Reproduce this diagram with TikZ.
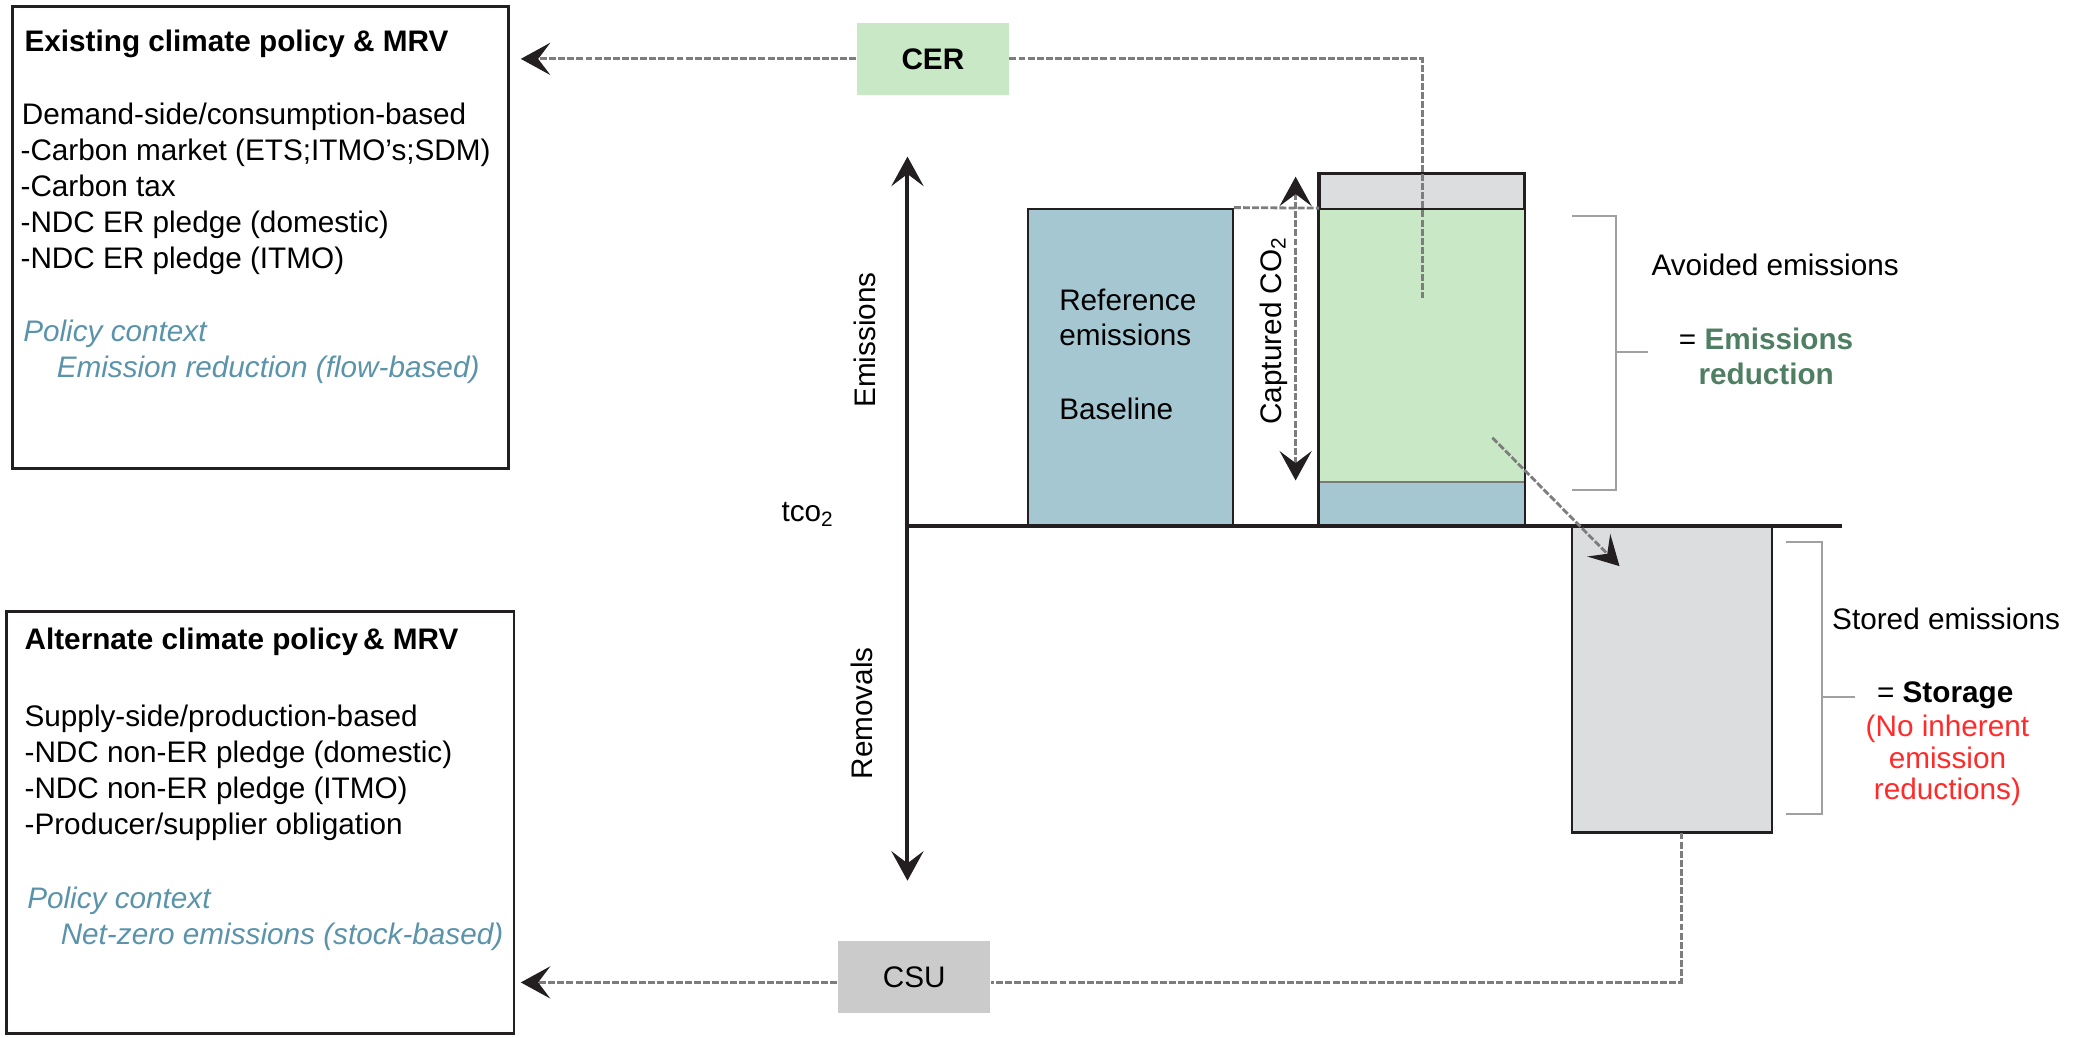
\documentclass[tikz,border=0pt]{standalone}
\usepackage{fontspec}
\setmainfont{Liberation Sans}
\usetikzlibrary{arrows.meta,fit}
\definecolor{barblue}{HTML}{A5C7D2}
\definecolor{bargreen}{HTML}{C9E8C6}
\definecolor{bargray}{HTML}{DCDDDF}
\definecolor{csugray}{HTML}{CBCBCB}
\definecolor{dashgray}{HTML}{7D7D7D}
\definecolor{brgray}{HTML}{A0A0A0}
\definecolor{polteal}{HTML}{5A93AA}
\definecolor{ergreen}{HTML}{4F7F62}
\definecolor{redtxt}{HTML}{FF2B2B}
\definecolor{inkblack}{HTML}{231F20}
\newcommand\fsz{\fontsize{11.1}{13.7}\selectfont}
\begin{document}
\begin{tikzpicture}[x=0.5pt,y=-0.5pt,
  every node/.style={inner sep=0pt, font=\fsz},
  txt/.style={anchor=base west},
  ctr/.style={anchor=base},
  bold/.style={font=\fsz\bfseries},
  poltxt/.style={anchor=base west, text=polteal, font=\fsz\itshape},
  tipstyle/.style={-{Stealth[length=11pt,width=12pt,inset=4.5pt,color=inkblack]}},
  tipboth/.style={{Stealth[length=11pt,width=12pt,inset=4.5pt,color=inkblack]}-{Stealth[length=11pt,width=12pt,inset=4.5pt,color=inkblack]}},
  axisline/.style={line width=1.5pt, draw=inkblack},
  dashline/.style={draw=dashgray, line width=1.05pt, dash pattern=on 2.6pt off 0.8pt},
  barbox/.style={draw=inkblack, line width=0.9pt},
  polbox/.style={draw=inkblack, line width=1.1pt},
  brk/.style={draw=brgray, line width=0.7pt},
]
\useasboundingbox (0,0) rectangle (1560,775);

% ---------- policy boxes ----------
\node[polbox, fit={(9,5)(380,350)}] (pol1) {};
\node[txt, bold] (p1title) at (18,38.6) {Existing climate policy \& MRV};
\node[txt] (p1l1) at (16,92.7) {Demand-side/consumption-based};
\node[txt] (p1l2) at (15,119.6) {-Carbon market (ETS;ITMO’s;SDM)};
\node[txt] (p1l3) at (15,146.5) {-Carbon tax};
\node[txt] (p1l4) at (15,173.4) {-NDC ER pledge (domestic)};
\node[txt] (p1l5) at (15,200.3) {-NDC ER pledge (ITMO)};
\node[poltxt] (p1c1) at (17,255) {Policy context};
\node[poltxt] (p1c2) at (42,282.4) {Emission reduction (flow-based)};

\node[polbox, fit={(5,457)(384,772)}] (pol2) {};
\node[txt, bold] (p2title) at (18,485.4) {Alternate climate policy\,\& MRV};
\node[txt] (p2l1) at (18,542.7) {Supply-side/production-based};
\node[txt] (p2l2) at (18,569.6) {-NDC non-ER pledge (domestic)};
\node[txt] (p2l3) at (18,596.5) {-NDC non-ER pledge (ITMO)};
\node[txt] (p2l4) at (18,623.4) {-Producer/supplier obligation};
\node[poltxt] (p2c1) at (20,678.5) {Policy context};
\node[poltxt] (p2c2) at (45,705.4) {Net-zero emissions (stock-based)};

% ---------- unit boxes ----------
\node[fill=bargreen, minimum width=56.75pt, minimum height=27pt, bold] (cer) at (697,44) {CER};
\node[fill=csugray, minimum width=57pt, minimum height=27pt] (csu) at (683,730) {CSU};

% ---------- bars ----------
\node[barbox, fill=barblue, fit={(768,156)(921,393)}] (ref) {};
\node[fill=bargreen, draw=inkblack!60, line width=0.5pt, fit={(986,156)(1139,360)}] (green) {};
\node[fill=barblue, draw=inkblack!60, line width=0.5pt, fit={(986,360)(1139,393)}] (blue) {};
\node[barbox, fill=bargray, fit={(986,130)(1139,156)}] (capgray) {};
\draw[barbox] (capgray.north west) rectangle (blue.south east);
\node[barbox, fill=bargray, fit={(1174.5,393)(1324,622)}] (stor) {};

\node[txt] (reftxt1) at (791,232) {Reference};
\node[txt] (reftxt2) at (791,258.5) {emissions};
\node[txt] (basetxt) at (791,313.4) {Baseline};

% ---------- axes ----------
\coordinate (origin) at (678,393);
\coordinate (ytop) at (678,117);
\coordinate (ybot) at (678,658);
\coordinate (xend) at (1376,393);
\draw[axisline, tipstyle] (origin) -- (ytop);
\draw[axisline, tipstyle] (origin) -- (ybot);
\draw[axisline] (origin) -- (xend);
\node[rotate=90] (emlab) at (646,254) {Emissions};
\node[rotate=90] (remlab) at (644,533) {Removals};
\node[txt] (tco) at (583.5,390) {tco\textsubscript{2}};

% ---------- captured CO2 ----------
\coordinate (capTop) at (968,132);
\coordinate (capBot) at (968,359);
\draw[dashline] (ref.north east) -- (green.north west);
\draw[dashline, tipboth] (capTop) -- (capBot);
\node[rotate=90] (captxt) at (951.5,247) {Captured CO\textsubscript{2}};

% ---------- CER / CSU flows ----------
\coordinate (cerend) at (1062.5,222.5);
\draw[dashline] (cer.east) -| (cerend);
\draw[dashline, tipstyle, shorten >=4pt] (cer.west) -- (pol1.east |- cer.west);

\coordinate (sb) at (1256,622);
\coordinate (sc) at (1256,734);
\draw[dashline] (sb) -- (sc) -- (csu.east |- sc);
\draw[dashline, tipstyle, shorten >=2pt] (csu.west |- sc) -- (pol2.east |- sc);

\coordinate (dstart) at (1115,327);
\coordinate (dend) at (1210,423);
\draw[dashline, tipstyle] (dstart) -- (dend);

% ---------- brackets and labels ----------
\draw[brk] (1174.7,161.5) -- (1207.4,161.5) -- (1207.4,366) -- (1174.7,366);
\draw[brk] (1207.4,263) -- (1231,263);
\node[txt] (avoid) at (1233.5,206) {Avoided emissions};
\node[txt] (eqer) at (1254,261) {= \textcolor{ergreen}{\bfseries Emissions}};
\node[txt, bold, text=ergreen] (redu) at (1268.6,287) {reduction};

\draw[brk] (1334.3,405) -- (1361.5,405) -- (1361.5,608) -- (1334.3,608);
\draw[brk] (1361.5,520.5) -- (1386,520.5);
\node[txt] (stored) at (1368.5,470.5) {Stored emissions};
\node[txt] (eqst) at (1402,525) {= \textbf{Storage}};
\node[ctr, text=redtxt] (red1) at (1455,550) {(No inherent};
\node[ctr, text=redtxt] (red2) at (1455,574) {emission};
\node[ctr, text=redtxt] (red3) at (1455,597.5) {reductions)};
\end{tikzpicture}
\end{document}
